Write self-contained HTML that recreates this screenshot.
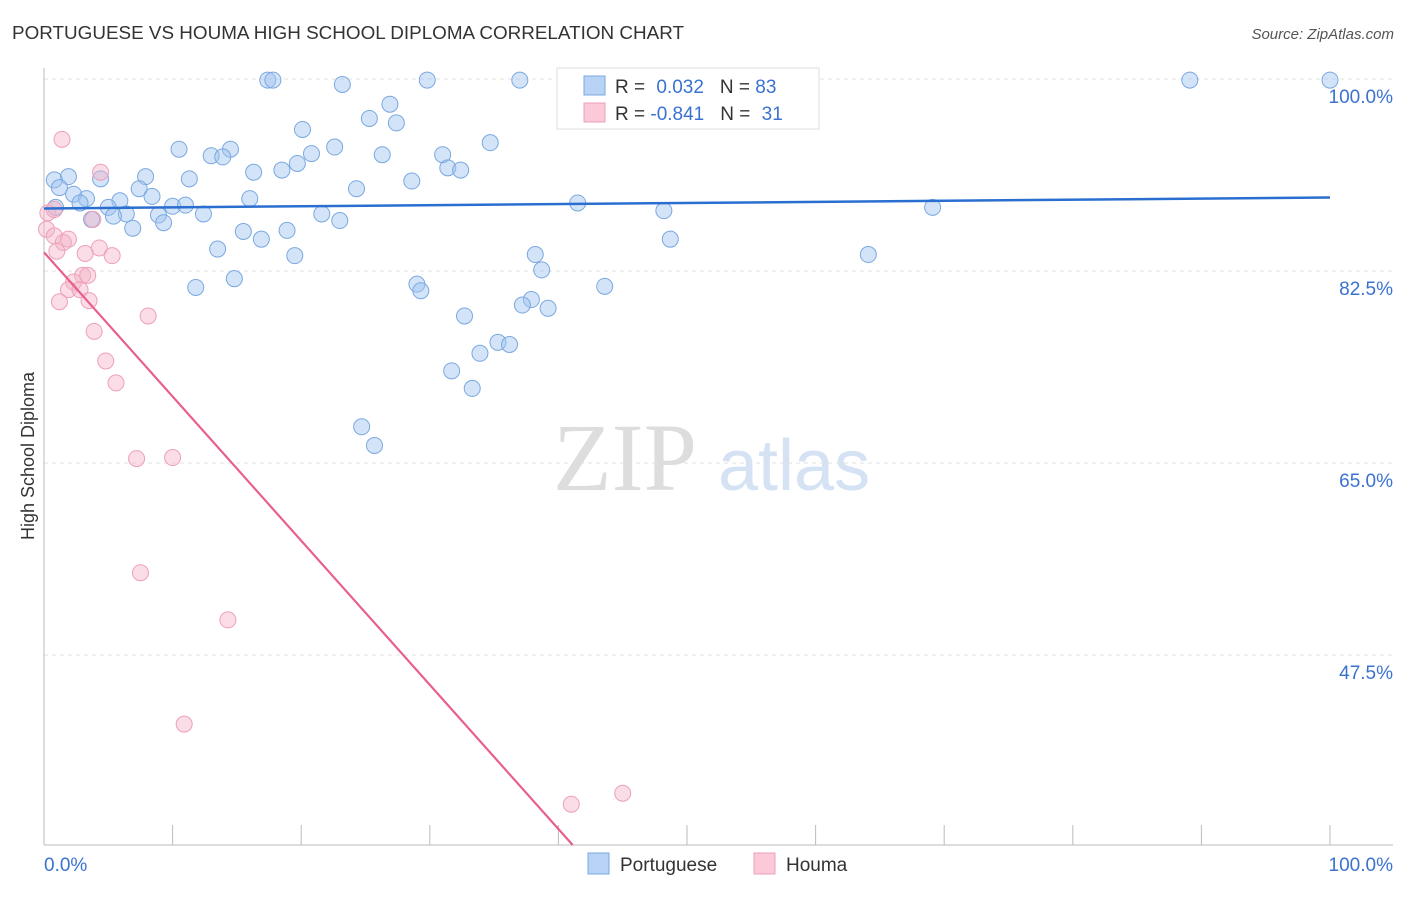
<!DOCTYPE html>
<html><head><meta charset="utf-8"><style>
body{margin:0;background:#fff;font-family:"Liberation Sans",sans-serif}
</style></head><body>
<svg id="chart" width="1406" height="892" xmlns="http://www.w3.org/2000/svg" font-family="Liberation Sans, sans-serif">
<text x="12" y="39" font-size="18" fill="#333" textLength="672" lengthAdjust="spacingAndGlyphs">PORTUGUESE VS HOUMA HIGH SCHOOL DIPLOMA CORRELATION CHART</text>
<text x="1394" y="39" font-size="15" fill="#555" text-anchor="end" font-style="italic">Source: ZipAtlas.com</text>
<g>
<text x="553" y="490" font-size="96" font-family="Liberation Serif, serif" fill="#ddd">ZIP</text>
<text x="718" y="490" font-size="72" fill="#d4e2f4">atlas</text>
</g>
<g id="grid"></g>
<g id="axes"></g>
<g id="points"></g>
<g id="lines"></g>
<text transform="translate(34,456) rotate(-90)" font-size="18" fill="#333" text-anchor="middle">High School Diploma</text>
<g>
<rect x="557" y="68" width="262" height="61" fill="#fff" stroke="#ddd"/>
<rect x="584" y="76" width="21" height="19" fill="#b8d3f5" stroke="#7aa8e0"/>
<rect x="584" y="103" width="21" height="19" fill="#fbc9d7" stroke="#eea0b8"/>
<text x="615" y="93" font-size="19" fill="#333">R = <tspan fill="#3a72d0" dx="6">0.032</tspan><tspan dx="16" fill="#333">N = </tspan><tspan fill="#3a72d0">83</tspan></text>
<text x="615" y="120" font-size="19" fill="#333">R = <tspan fill="#3a72d0">-0.841</tspan><tspan dx="16" fill="#333">N = </tspan><tspan fill="#3a72d0" dx="6">31</tspan></text>
</g>
<g>
<rect x="588" y="853" width="21" height="21" fill="#b8d3f5" stroke="#7aa8e0"/>
<text x="620" y="871" font-size="19" fill="#333">Portuguese</text>
<rect x="754" y="853" width="21" height="21" fill="#fbc9d7" stroke="#eea0b8"/>
<text x="786" y="871" font-size="19" fill="#333">Houma</text>
</g>
</svg>
<script>
const yTicks=[100,82.5,65,47.5];
const yTickLabels=["100.0%","82.5%","65.0%","47.5%"];
const xTickLabels=["0.0%","100.0%"];
const blueX=[17.4,17.8,23.2,29.8,37.0,45.6,89.1,100,26.9,25.3,27.4,20.1,34.7,10.5,22.6,14.5,13.0,13.9,26.3,31.0,20.8,19.7,16.3,18.5,31.4,32.4,1.9,7.9,11.3,28.6,0.8,4.4,24.3,1.2,2.3,7.4,8.4,3.3,2.8,5.9,5.0,16.0,10.0,11.0,41.5,69.1,48.2,0.9,12.4,8.9,6.4,5.4,21.6,23.0,9.3,6.9,3.7,18.9,15.5,16.9,48.7,13.5,19.5,38.2,64.1,38.7,14.8,11.8,29.0,29.3,43.6,37.9,37.2,39.2,32.7,35.3,36.2,33.9,31.7,33.3,24.7,25.7];
const blueY=[99.9,99.9,99.5,99.9,99.9,99.9,99.9,99.9,97.7,96.4,96.0,95.4,94.2,93.6,93.8,93.6,93.0,92.9,93.1,93.1,93.2,92.3,91.5,91.7,91.9,91.7,91.1,91.1,90.9,90.7,90.8,90.9,90.0,90.1,89.5,90.0,89.3,89.1,88.7,88.9,88.3,89.1,88.4,88.5,88.7,88.3,88.0,88.3,87.7,87.6,87.7,87.5,87.7,87.1,86.9,86.4,87.2,86.2,86.1,85.4,85.4,84.5,83.9,84.0,84.0,82.6,81.8,81.0,81.3,80.7,81.1,79.9,79.4,79.1,78.4,76.0,75.8,75.0,73.4,71.8,68.3,66.6];
const pinkX=[1.4,4.4,0.3,0.8,0.2,0.8,1.9,1.5,3.8,4.3,3.2,5.3,1.0,3.0,3.4,2.3,1.9,2.8,1.2,3.5,8.1,3.9,4.8,5.6,7.2,10.0,7.5,14.3,10.9,41.0,45.0];
const pinkY=[94.5,91.5,87.8,88.1,86.3,85.7,85.4,85.1,87.2,84.6,84.1,83.9,84.3,82.1,82.1,81.5,80.8,80.8,79.7,79.8,78.4,77.0,74.3,72.3,65.4,65.5,55.0,50.7,41.2,33.9,34.9];
const blueTrend=[88.2,89.2];
const pinkTrend=[84.2,-1.314];
const NS="http://www.w3.org/2000/svg";
const X0=44,X1=1330,Y100=79,PX=192/17.5;
const sx=v=>X0+(X1-X0)*v/100;
const sy=v=>Y100+(100-v)*PX;
function mk(tag,attrs,parent){const e=document.createElementNS(NS,tag);for(const k in attrs)e.setAttribute(k,attrs[k]);document.getElementById(parent).appendChild(e);return e;}
yTicks.forEach((t,i)=>{
 const l=mk('line',{x1:44,x2:1393,y1:sy(t),y2:sy(t),stroke:'#e0e0e0','stroke-dasharray':'4,4'},'grid');
 
 
 const tx=mk('text',{x:1393,y:sy(t)+24,'font-size':19,fill:'#3a72d0','text-anchor':'end'},'grid');
 tx.textContent=yTickLabels[i];
 
 
});
let a=mk('line',{x1:44,x2:44,y1:68,y2:845,stroke:'#bbb'},'axes');


a=mk('line',{x1:44,x2:1393,y1:845,y2:845,stroke:'#bbb'},'axes');


for(let k=1;k<=10;k++){const t=mk('line',{x1:sx(k*10),x2:sx(k*10),y1:825,y2:845,stroke:'#bbb'},'axes');
 
 }
[[0,'start',44],[100,'end',1393]].forEach((d,i)=>{const t=mk('text',{x:d[2],y:871,'font-size':19,fill:'#3a72d0','text-anchor':d[1]},'axes');t.textContent=xTickLabels[i];
 
 });
blueX.forEach((v,i)=>{const c=mk('circle',{cx:sx(v),cy:sy(blueY[i]),r:8,fill:'rgba(160,196,240,0.45)',stroke:'#7aa8e0','stroke-width':1},'points');
 
 });
pinkX.forEach((v,i)=>{const c=mk('circle',{cx:sx(v),cy:sy(pinkY[i]),r:8,fill:'rgba(245,180,200,0.45)',stroke:'#eea0b8','stroke-width':1},'points');
 
 });
let ln=mk('line',{x1:sx(0),y1:sy(blueTrend[0]),x2:sx(100),y2:sy(blueTrend[1]),stroke:'#2a6fd0','stroke-width':2.5},'lines');


const yMin=100-(845-Y100)/PX;
const xEnd=(yMin-pinkTrend[0])/pinkTrend[1];
ln=mk('line',{x1:sx(0),y1:sy(pinkTrend[0]),x2:sx(xEnd),y2:sy(yMin),stroke:'#e8608a','stroke-width':2.2},'lines');


</script>
</body></html>
